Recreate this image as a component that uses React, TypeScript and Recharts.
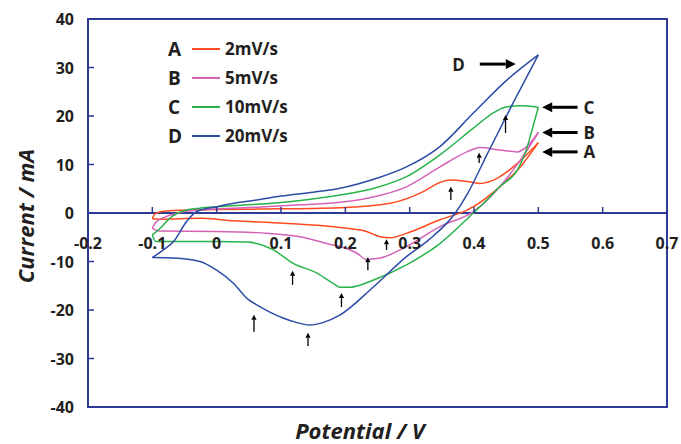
import React from 'react';
import {
  LineChart,
  Line,
  XAxis,
  YAxis,
  ReferenceLine,
  ReferenceArea,
  Legend,
} from 'recharts';

// potential (V) / current (mA) along each sweep, forward then reverse
const potA = [-0.1, -0.096, -0.085, -0.067, 0, 0.062, 0.192, 0.27, 0.321, 0.347, 0.363, 0.389, 0.409, 0.435, 0.461, 0.5, 0.472, 0.44, 0.399, 0.389, 0.347, 0.295, 0.27, 0.254, 0.233, 0.192, 0.104, 0.026, -0.026, -0.09, -0.1];
const currA = [-1.2, -0.2, 0.3, 0.5, 0.7, 0.8, 1.1, 2.0, 4.4, 6.3, 6.8, 6.5, 6.1, 7.1, 9.5, 14.5, 9.5, 5.4, 1.3, 0.6, -1.4, -4.2, -5.1, -4.9, -3.8, -3.0, -2.1, -1.6, -1.1, -1.3, -1.2];

const potB = [-0.1, -0.095, -0.08, -0.06, -0.03, 0, 0.062, 0.13, 0.192, 0.25, 0.295, 0.347, 0.389, 0.409, 0.44, 0.467, 0.482, 0.5, 0.472, 0.44, 0.409, 0.399, 0.347, 0.295, 0.254, 0.233, 0.218, 0.192, 0.181, 0.13, 0.078, 0, -0.09, -0.1];
const currB = [-3.1, -2.0, -0.8, 0, 0.6, 0.8, 1.2, 1.7, 2.2, 3.5, 5.4, 9.5, 12.6, 13.5, 13.0, 12.6, 13.7, 16.6, 10.9, 5.4, 1.3, 0.3, -2.8, -6.9, -9.3, -9.6, -8.3, -6.9, -6.6, -4.9, -4.2, -3.8, -3.7, -3.1];

const potC = [-0.1, -0.088, -0.073, -0.052, -0.026, 0, 0.062, 0.13, 0.192, 0.25, 0.295, 0.347, 0.399, 0.425, 0.451, 0.472, 0.5, 0.49, 0.48, 0.468, 0.44, 0.415, 0.399, 0.347, 0.295, 0.244, 0.207, 0.192, 0.181, 0.156, 0.119, 0.088, 0.047, 0, -0.05, -0.095, -0.1];
const currC = [-4.5, -3.2, -1.1, 0.4, 1.0, 1.3, 1.8, 2.6, 3.7, 5.3, 7.5, 12.0, 17.5, 20.2, 21.9, 22.1, 21.8, 17.0, 12.5, 9.0, 5.4, 2.0, 0, -6.3, -10.7, -13.8, -15.3, -15.3, -14.5, -12.4, -10.4, -7.6, -6.0, -5.9, -5.9, -5.9, -4.5];

const potD = [-0.1, -0.085, -0.067, -0.047, -0.031, 0, 0.036, 0.062, 0.1, 0.15, 0.192, 0.25, 0.295, 0.347, 0.399, 0.451, 0.5, 0.46, 0.42, 0.39, 0.371, 0.33, 0.295, 0.244, 0.192, 0.165, 0.145, 0.125, 0.104, 0.085, 0.067, 0.047, 0.026, 0, -0.026, -0.067, -0.1];
const currD = [-9.2, -7.8, -5.9, -1.8, 0.3, 1.3, 2.2, 2.7, 3.5, 4.3, 5.1, 7.2, 9.5, 13.7, 20.6, 27.4, 32.6, 22.5, 12.0, 4.0, 0, -5.5, -9.0, -15.2, -21.0, -22.6, -23.1, -22.6, -21.7, -20.6, -19.3, -17.6, -14.5, -11.8, -10.0, -9.3, -9.2];

const X_TICKS = [-0.2, -0.1, 0, 0.1, 0.2, 0.3, 0.4, 0.5, 0.6, 0.7];
const Y_TICKS = [-40, -30, -20, -10, 0, 10, 20, 30, 40];

const AXIS = '#2E3A94';
const TEXT = '#231F20';
const FONT = '"Open Sans", sans-serif';

const toRows = (v: number[], i: number[]) => v.map((x, k) => ({ v: x, i: i[k] }));

// split a cycle at the vertex potential so each half is monotone in x
const splitSweep = (v: number[], i: number[]) => {
  const rows = toRows(v, i);
  const turn = v.indexOf(Math.max(...v));
  return [rows.slice(0, turn + 1), rows.slice(turn)];
};

const SERIES = [
  { key: 'A', name: '2mV/s', color: '#FF4B1F', sweeps: splitSweep(potA, currA) },
  { key: 'B', name: '5mV/s', color: '#D463B8', sweeps: splitSweep(potB, currB) },
  { key: 'C', name: '10mV/s', color: '#27B34A', sweeps: splitSweep(potC, currC) },
  { key: 'D', name: '20mV/s', color: '#2D4CA6', sweeps: splitSweep(potD, currD) },
];

// annotation arrows in data units: tail -> head
const ARROWS = [
  { x1: 0.409, y1: 30.7, x2: 0.465, y2: 30.7, label: 'D', side: 'tail-left', big: true },
  { x1: 0.561, y1: 21.8, x2: 0.506, y2: 21.8, label: 'C', side: 'tail-right', big: true },
  { x1: 0.561, y1: 16.6, x2: 0.506, y2: 16.6, label: 'B', side: 'tail-right', big: true },
  { x1: 0.561, y1: 12.6, x2: 0.506, y2: 12.6, label: 'A', side: 'tail-right', big: true },
  { x1: 0.364, y1: 2.7, x2: 0.364, y2: 5.4 },
  { x1: 0.408, y1: 10.3, x2: 0.408, y2: 12.4 },
  { x1: 0.449, y1: 16.5, x2: 0.449, y2: 20.2 },
  { x1: 0.264, y1: -7.6, x2: 0.264, y2: -5.4 },
  { x1: 0.235, y1: -11.8, x2: 0.235, y2: -9.1 },
  { x1: 0.194, y1: -19.4, x2: 0.194, y2: -16.5 },
  { x1: 0.118, y1: -14.8, x2: 0.118, y2: -11.9 },
  { x1: 0.058, y1: -24.5, x2: 0.058, y2: -21.0 },
  { x1: 0.142, y1: -27.4, x2: 0.142, y2: -24.7 },
];

// layout
const W = 681;
const H = 444;
const MARGIN = { top: 19, right: 14, left: 28, bottom: 0 };
const Y_AXIS_W = 60;
const X_AXIS_H = 37;
const PLOT_LEFT = MARGIN.left + Y_AXIS_W;
const PLOT_TOP = MARGIN.top;
const PLOT_H = H - MARGIN.top - X_AXIS_H;
const ZERO_Y = PLOT_TOP + (PLOT_H * 40) / 80;

const XTick = (props: any) => {
  const { x, payload } = props;
  return (
    <g>
      <line x1={x} x2={x} y1={ZERO_Y} y2={ZERO_Y - 6} stroke={AXIS} strokeWidth={1.5} />
      <text
        x={x}
        y={ZERO_Y + 30}
        textAnchor="middle"
        dominantBaseline="central"
        fontFamily={FONT}
        fontWeight={700}
        fontSize={16}
        fill={TEXT}
      >
        {payload.value}
      </text>
    </g>
  );
};

const YTick = (props: any) => {
  const { y, payload } = props;
  return (
    <g>
      <line x1={PLOT_LEFT} x2={PLOT_LEFT + 6} y1={y} y2={y} stroke={AXIS} strokeWidth={1.5} />
      <text
        x={PLOT_LEFT - 14}
        y={y}
        textAnchor="end"
        dominantBaseline="central"
        fontFamily={FONT}
        fontWeight={700}
        fontSize={16}
        fill={TEXT}
      >
        {payload.value}
      </text>
    </g>
  );
};

const makeArrow = (a: any) => (p: any) => {
  const { x1, y1, x2, y2 } = p;
  const len = Math.hypot(x2 - x1, y2 - y1) || 1;
  const ux = (x2 - x1) / len;
  const uy = (y2 - y1) / len;
  const headL = a.big ? 10 : 5;
  const headW = a.big ? 5 : 2.6;
  const bx = x2 - ux * headL;
  const by = y2 - uy * headL;
  const pts = `${x2},${y2} ${bx - uy * headW},${by + ux * headW} ${bx + uy * headW},${by - ux * headW}`;
  let label = null;
  if (a.label) {
    const left = a.side === 'tail-left';
    label = (
      <text
        x={left ? x1 - 15 : x1 + 6}
        y={y1}
        textAnchor={left ? 'end' : 'start'}
        dominantBaseline="central"
        fontFamily={FONT}
        fontWeight={700}
        fontSize={17}
        fill={TEXT}
      >
        {a.label}
      </text>
    );
  }
  return (
    <g>
      <line x1={x1} y1={y1} x2={bx} y2={by} stroke="#000" strokeWidth={a.big ? 3 : 1.3} />
      <polygon points={pts} fill="#000" />
      {label}
    </g>
  );
};

const LegendBox = () => (
  <div style={{ fontFamily: FONT, fontWeight: 700, color: TEXT }}>
    {SERIES.map((s) => (
      <div key={s.key} style={{ display: 'flex', alignItems: 'center', height: 29 }}>
        <span style={{ width: 24, fontSize: 19 }}>{s.key}</span>
        <span style={{ width: 28, height: 0, borderTop: `2px solid ${s.color}`, marginRight: 5 }} />
        <span style={{ fontSize: 17 }}>{s.name}</span>
      </div>
    ))}
  </div>
);

const App: React.FC = () => (
  <div style={{ position: 'absolute', left: 0, top: 0, width: W, height: H, background: '#fff' }}>
    <LineChart width={W} height={H} margin={MARGIN}>
      <XAxis
        type="number"
        dataKey="v"
        domain={[-0.2, 0.7]}
        ticks={X_TICKS}
        height={X_AXIS_H}
        axisLine={false}
        tickLine={false}
        tick={XTick}
        interval={0}
        label={() => (
          <text
            x={360}
            y={430}
            textAnchor="middle"
            dominantBaseline="central"
            fontFamily={FONT}
            fontWeight={700}
            fontStyle="italic"
            fontSize={22}
            fill={TEXT}
          >
            Potential / V
          </text>
        )}
      />
      <YAxis
        type="number"
        dataKey="i"
        domain={[-40, 40]}
        ticks={Y_TICKS}
        width={Y_AXIS_W}
        axisLine={false}
        tickLine={false}
        tick={YTick}
        interval={0}
        label={() => (
          <text
            x={25}
            y={216}
            textAnchor="middle"
            dominantBaseline="central"
            transform="rotate(-90 25 216)"
            fontFamily={FONT}
            fontWeight={700}
            fontStyle="italic"
            fontSize={22}
            fill={TEXT}
          >
            Current / mA
          </text>
        )}
      />
      <ReferenceArea
        x1={-0.2}
        x2={0.7}
        y1={-40}
        y2={40}
        fill="none"
        fillOpacity={0}
        stroke={AXIS}
        strokeWidth={2}
      />
      <ReferenceLine y={0} stroke={AXIS} strokeWidth={2} />
      {SERIES.map((s) =>
        s.sweeps.map((rows, k) => (
          <Line
            key={`${s.key}-${k}`}
            data={rows}
            dataKey="i"
            name={s.name}
            type="monotone"
            stroke={s.color}
            strokeWidth={1.5}
            dot={false}
            isAnimationActive={false}
          />
        ))
      )}
      {ARROWS.map((a, k) => (
        <ReferenceLine
          key={k}
          segment={[
            { x: a.x1, y: a.y1 },
            { x: a.x2, y: a.y2 },
          ]}
          shape={makeArrow(a)}
        />
      ))}
      <Legend
        layout="horizontal"
        verticalAlign="middle"
        align="center"
        content={LegendBox}
        wrapperStyle={{ position: 'absolute', left: 168, top: 34, width: 'auto' }}
      />
    </LineChart>
  </div>
);

export default App;
